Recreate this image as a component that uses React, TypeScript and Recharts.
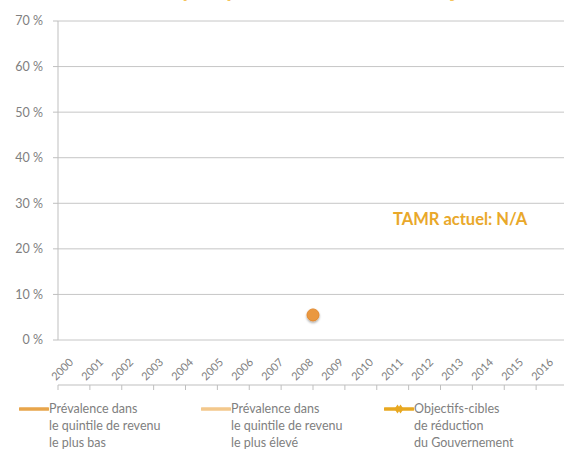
import { CartesianGrid, ComposedChart, Line, XAxis, YAxis } from "recharts"

const years = ["2000", "2001", "2002", "2003", "2004", "2005", "2006", "2007", "2008", "2009", "2010", "2011", "2012", "2013", "2014", "2015", "2016"]
// prévalence (fraction), null = pas de donnée
const lowestQuintile = [null, null, null, null, null, null, null, null, 0.055, null, null, null, null, null, null, null, null]
const highestQuintile = [null, null, null, null, null, null, null, null, null, null, null, null, null, null, null, null, null]
const govTargets = [null, null, null, null, null, null, null, null, null, null, null, null, null, null, null, null, null]
const yTicks = [0, 0.1, 0.2, 0.3, 0.4, 0.5, 0.6, 0.7]
const boundaryTicks = [0, 1, 2, 3, 4, 5, 6, 7, 8, 9, 10, 11, 12, 13, 14, 15, 16, 17]

const data = years.map((year, i) => ({
  year,
  low: lowestQuintile[i],
  high: highestQuintile[i],
  target: govTargets[i],
}))

const FONT = "Lato, 'Open Sans', sans-serif"
const GREY = "#808080"

function YearTick(props: any) {
  const { x, y, payload } = props
  return (
    <text
      x={x + 1}
      y={y + 23}
      transform={`rotate(-45, ${x + 1}, ${y + 23})`}
      textAnchor="end"
      fontSize={11}
      fill={GREY}
      fontFamily={FONT}
    >
      {payload.value}
    </text>
  )
}

function LegendItem({ left, color, lines, marker }: { left: number; color: string; lines: string[]; marker?: boolean }) {
  return (
    <div style={{ position: "absolute", left, top: 399, display: "flex" }}>
      <svg width={30} height={20}>
        <line x1={1} y1={10} x2={29} y2={10} stroke={color} strokeWidth={3.5} strokeLinecap="round" />
        {marker && (
          <g fill={color}>
            <path d="M 10.5 10 L 13.5 5.5 L 16.5 10 L 13.5 14.5 Z" />
            <path d="M 13.5 10 L 16.5 5.5 L 19.5 10 L 16.5 14.5 Z" />
          </g>
        )}
      </svg>
      <div style={{ fontSize: 12.5, lineHeight: "17px", color: GREY, fontFamily: FONT, marginTop: 1 }}>
        {lines.map((l) => (
          <div key={l}>{l}</div>
        ))}
      </div>
    </div>
  )
}

export default function App() {
  return (
    <div style={{ position: "absolute", left: 0, top: 0, width: 564, height: 450, overflow: "hidden", background: "#fff" }}>
      <div
        style={{
          position: "absolute",
          left: 70,
          top: -25,
          fontSize: 22,
          fontWeight: 700,
          color: "#F5C35A",
          fontFamily: FONT,
          whiteSpace: "nowrap",
        }}
      >
        Prévalence par quintile de revenu et objectifs-cibles
      </div>
      <ComposedChart width={600} height={450} data={data} margin={{ top: 21, right: 32, bottom: 60, left: 0 }}>
        <defs>
          <filter id="dotShadow" x="-50%" y="-50%" width="200%" height="200%">
            <feDropShadow dx="0" dy="1.5" stdDeviation="1.2" floodColor="#000" floodOpacity="0.35" />
          </filter>
        </defs>
        <CartesianGrid vertical={false} stroke="#c6c6c6" />
        <XAxis
          xAxisId="grid"
          type="number"
          domain={[0, 17]}
          ticks={boundaryTicks}
          allowDataOverflow
          tickFormatter={() => ""}
          tickSize={5}
          height={5}
          stroke="#bfbfbf"
        />
        <XAxis
          dataKey="year"
          scale="band"
          padding={{ left: 0, right: 0 }}
          interval={0}
          axisLine={false}
          tickLine={false}
          tickSize={0}
          tickMargin={0}
          height={45}
          tick={<YearTick />}
        />
        <YAxis
          domain={[0, 0.7]}
          ticks={yTicks}
          width={58}
          tickSize={5}
          tickMargin={10}
          stroke="#bfbfbf"
          tick={{ fill: GREY, fontSize: 12.5, fontFamily: FONT }}
          tickFormatter={(v: number) => `${Math.round(v * 100)} %`}
        />
        <Line
          dataKey="low"
          stroke="#E8A54B"
          strokeWidth={3.5}
          dot={{ r: 6, fill: "#EA9840", stroke: "#E2892F", strokeWidth: 1, filter: "url(#dotShadow)" }}
          isAnimationActive={false}
        />
        <Line dataKey="high" stroke="#F3C88C" strokeWidth={3.5} dot={false} isAnimationActive={false} />
        <Line dataKey="target" stroke="#E8A820" strokeWidth={3.5} dot={false} isAnimationActive={false} />
      </ComposedChart>
      <div
        style={{
          position: "absolute",
          left: 393,
          top: 209,
          fontSize: 16.5,
          fontWeight: 700,
          color: "#E9A82A",
          fontFamily: FONT,
          whiteSpace: "nowrap",
        }}
      >
        TAMR actuel: N/A
      </div>
      <LegendItem left={19} color="#E8A54B" lines={["Prévalence dans", "le quintile de revenu", "le plus bas"]} />
      <LegendItem left={201} color="#F3C88C" lines={["Prévalence dans", "le quintile de revenu", "le plus élevé"]} />
      <LegendItem left={384} color="#E8A820" marker lines={["Objectifs-cibles", "de réduction", "du Gouvernement"]} />
    </div>
  )
}
